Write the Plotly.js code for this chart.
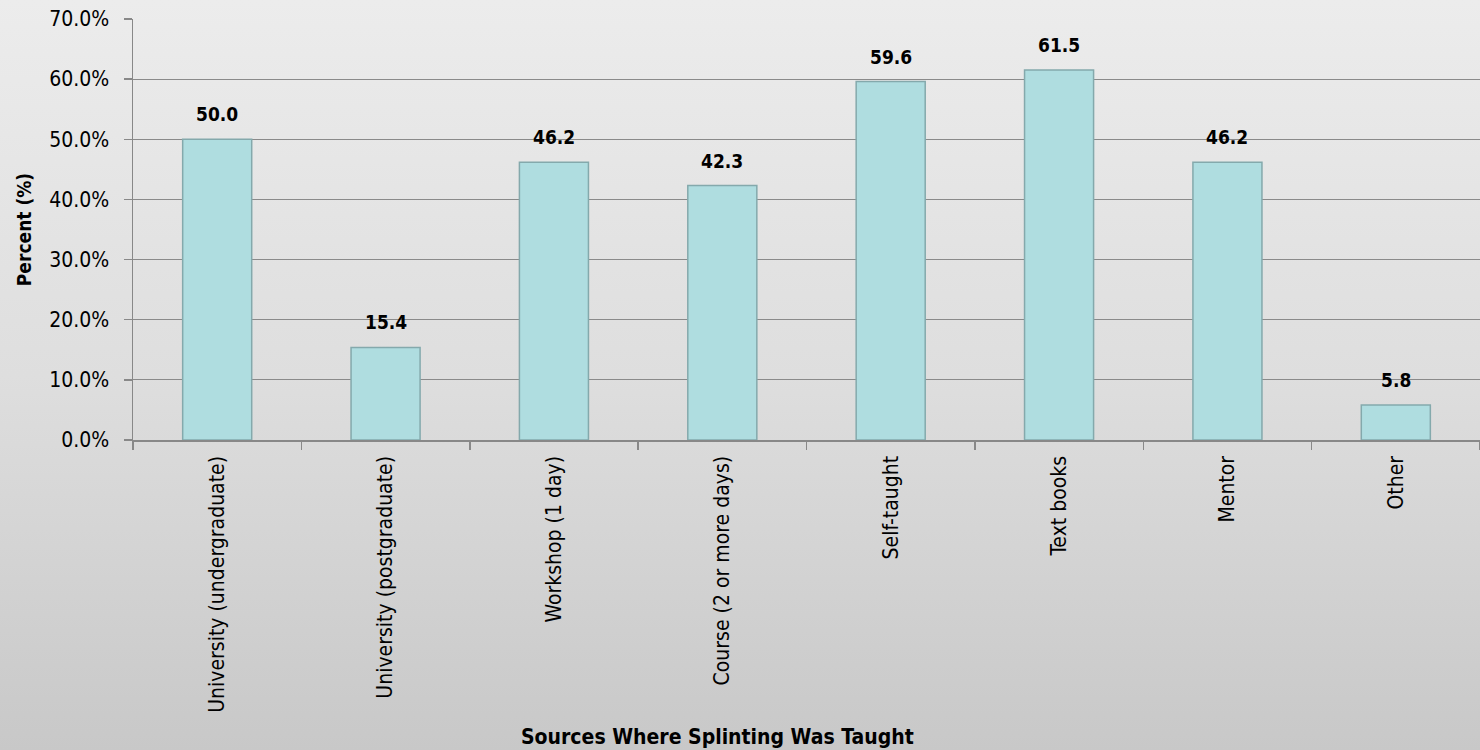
<!DOCTYPE html>
<html>
<head>
<meta charset="utf-8">
<script src="https://cdn.plot.ly/plotly-3.0.1.min.js"></script>
<style>
html,body{margin:0;padding:0;}
#chart{width:1480px;height:750px;background:linear-gradient(to bottom,#ececec 0%,#dedede 50%,#c8c8c8 100%);}
</style>
</head>
<body>
<div id="chart"></div>
<script>
const categories = ["University (undergraduate)","University (postgraduate)","Workshop (1 day)","Course (2 or more days)","Self-taught","Text books","Mentor","Other"];
const values = [50.0, 15.4, 46.2, 42.3, 59.6, 61.5, 46.2, 5.8];
const labels = ["50.0","15.4","46.2","42.3","59.6","61.5","46.2","5.8"];
const xTitle = "Sources Where Splinting Was Taught";
const yTitle = "Percent (%)";

const FONT = "Liberation Sans Narrow, DejaVu Sans Condensed, Arial Narrow, sans-serif";

const trace = {
  type: "bar",
  x: categories,
  y: values,
  marker: {color: "#afdde0", line: {color: "#84a9ac", width: 1.5}},
  hoverinfo: "none"
};

const annotations = categories.map((c, i) => ({
  x: c, y: values[i], text: labels[i], showarrow: false,
  yanchor: "bottom", yshift: 12,
  font: {family: FONT, size: 19, color: "#000", weight: "bold"}
}));
annotations.push({
  xref: "paper", yref: "paper", x: 0.4336, y: -0.7055,
  xanchor: "center", yanchor: "middle", showarrow: false,
  text: xTitle,
  font: {family: FONT, size: 21, color: "#000", weight: "bold"}
});

const layout = {
  width: 1480, height: 750,
  margin: {l: 133, r: 0, t: 19, b: 310},
  paper_bgcolor: "rgba(0,0,0,0)",
  plot_bgcolor: "rgba(0,0,0,0)",
  bargap: 0.59,
  showlegend: false,
  font: {family: FONT, color: "#000"},
  xaxis: {
    type: "category",
    tickson: "boundaries",
    ticks: "outside", ticklen: 8, tickcolor: "#888", tickwidth: 1.5,
    tickangle: -90,
    ticklabelstandoff: 6,
    tickfont: {family: FONT, size: 21, color: "#000"},
    showline: true, linecolor: "#888", linewidth: 1.5,
    showgrid: false
  },
  yaxis: {
    range: [0, 70], dtick: 10, tick0: 0,
    tickformat: ".1f", ticksuffix: "%",
    ticks: "outside", ticklen: 8, tickcolor: "#888", tickwidth: 1.5,
    ticklabelstandoff: 10,
    tickfont: {family: FONT, size: 21, color: "#000"},
    showline: true, linecolor: "#888", linewidth: 1.5,
    showgrid: true, gridcolor: "#8a8a8a", gridwidth: 1.2,
    zeroline: false,
    title: {text: yTitle, font: {family: FONT, size: 19, weight: "bold"}, standoff: 12}
  },
  annotations: annotations
};

Plotly.newPlot("chart", [trace], layout, {displayModeBar: false, staticPlot: true});
</script>
</body>
</html>
